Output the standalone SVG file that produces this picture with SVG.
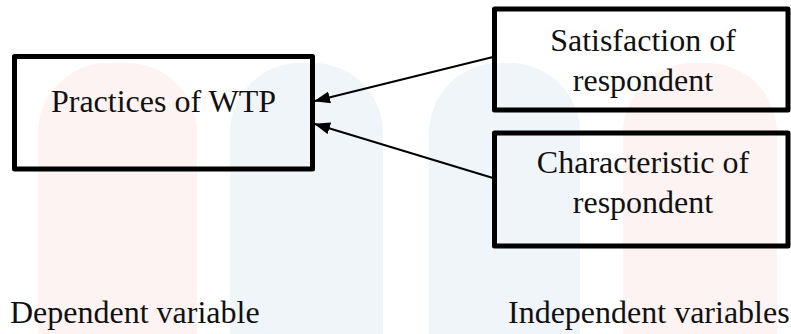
<svg xmlns="http://www.w3.org/2000/svg" width="791" height="334" viewBox="0 0 791 334">
  <defs>
    <style>
      .bg { fill: #ffffff; }
      .wm-pink { fill: #fdf3f3; }
      .wm-blue { fill: #f0f5f9; }
      .box { fill: none; stroke: #000000; stroke-width: 5; stroke-linejoin: round; }
      .lbl { font-family: "Liberation Serif", "DejaVu Serif", serif; font-size: 32px; fill: #111111; }
      .mid { text-anchor: middle; }
      .edge { stroke: #000000; stroke-width: 2; fill: none; }
    </style>
    <marker id="arrow" viewBox="0 0 16 12" refX="15" refY="6" markerWidth="16" markerHeight="12" markerUnits="userSpaceOnUse" orient="auto">
      <path d="M0,0 L16,6 L0,12 Z" fill="#000000"/>
    </marker>
  </defs>
  <rect class="bg" x="0" y="0" width="791" height="334"/>
  <g id="watermark">
    <path class="wm-pink" d="M38,334 V133 A70,70 0 0 1 108,63 H127 A70,70 0 0 1 197,133 V334 Z"/>
    <path class="wm-blue" d="M230,334 V133 A70,70 0 0 1 300,63 H313 A70,70 0 0 1 383,133 V334 Z"/>
    <path class="wm-blue" d="M429,334 V133 A70,70 0 0 1 499,63 H510 A70,70 0 0 1 580,133 V334 Z"/>
    <path class="wm-pink" d="M623,334 V133 A70,70 0 0 1 693,63 H707 A70,70 0 0 1 777,133 V334 Z"/>
  </g>
  <g id="connectors">
    <line class="edge" x1="493" y1="57" x2="315" y2="101" marker-end="url(#arrow)"/>
    <line class="edge" x1="493" y1="178" x2="315" y2="124" marker-end="url(#arrow)"/>
  </g>
  <g id="node-practices">
    <rect class="box" x="14.5" y="56.5" width="298" height="112.5"/>
    <text class="lbl mid" x="163.5" y="112">Practices of WTP</text>
  </g>
  <g id="node-satisfaction">
    <rect class="box" x="494.5" y="9" width="293.5" height="101"/>
    <text class="lbl mid" x="643" y="51">Satisfaction of</text>
    <text class="lbl mid" x="643" y="90.5">respondent</text>
  </g>
  <g id="node-characteristic">
    <rect class="box" x="494.5" y="133" width="293.5" height="113"/>
    <text class="lbl mid" x="643" y="173">Characteristic of</text>
    <text class="lbl mid" x="643" y="213">respondent</text>
  </g>
  <g id="label-dependent">
    <text class="lbl" x="10" y="323">Dependent variable</text>
  </g>
  <g id="label-independent">
    <text class="lbl" x="508" y="323">Independent variables</text>
  </g>
</svg>
